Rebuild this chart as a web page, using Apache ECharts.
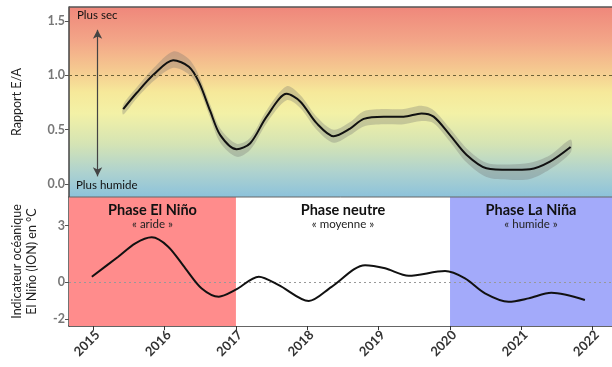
<!DOCTYPE html>
<html><head><meta charset="utf-8">
<script src="https://cdn.jsdelivr.net/npm/echarts@6/dist/echarts.min.js"></script>
<style>html,body{margin:0;padding:0;background:#fff}#c{width:612px;height:367px}</style>
</head><body><div id="c"></div>
<script>
// ---- data ----
const xTickYears = [2015, 2016, 2017, 2018, 2019, 2020, 2021, 2022];
const eaYears  = [2015.42, 2015.61, 2015.85, 2016.12, 2016.34, 2016.48, 2016.64, 2016.78, 2017.01, 2017.2, 2017.43, 2017.71, 2017.9, 2018.13, 2018.37, 2018.6, 2018.79, 2019.07, 2019.35, 2019.6, 2019.77, 2020.0, 2020.23, 2020.51, 2020.84, 2021.12, 2021.4, 2021.69];
const eaValues = [0.69, 0.84, 1.01, 1.14, 1.08, 0.94, 0.67, 0.45, 0.32, 0.375, 0.62, 0.83, 0.76, 0.56, 0.44, 0.51, 0.60, 0.62, 0.62, 0.65, 0.62, 0.45, 0.27, 0.145, 0.13, 0.135, 0.205, 0.34];
const eaBandUp   = [0.04, 0.05, 0.06, 0.08, 0.07, 0.06, 0.06, 0.06, 0.05, 0.05, 0.06, 0.07, 0.06, 0.06, 0.06, 0.06, 0.07, 0.07, 0.07, 0.07, 0.06, 0.06, 0.06, 0.05, 0.05, 0.06, 0.06, 0.07];
const eaBandDown = [0.05, 0.05, 0.06, 0.07, 0.07, 0.06, 0.06, 0.07, 0.07, 0.06, 0.06, 0.06, 0.06, 0.06, 0.06, 0.06, 0.07, 0.07, 0.07, 0.07, 0.06, 0.06, 0.07, 0.08, 0.09, 0.09, 0.07, 0.05];
const eaTicks = [0, 0.5, 1.0, 1.5];
const oniYears  = [2014.98, 2015.35, 2015.59, 2015.82, 2016.05, 2016.29, 2016.52, 2016.76, 2016.99, 2017.32, 2017.6, 2018.02, 2018.34, 2018.81, 2019.09, 2019.42, 2019.93, 2020.21, 2020.49, 2020.82, 2021.1, 2021.42, 2021.89];
const oniValues = [0.27, 1.34, 2.06, 2.38, 1.88, 0.72, -0.36, -0.80, -0.44, 0.27, -0.18, -1.03, -0.27, 0.89, 0.72, 0.32, 0.57, 0.18, -0.62, -1.07, -0.89, -0.59, -0.98];
const oniTicks = [-2, 0, 3];
const phases = [
  {name: 'Phase El Niño', sub: '« aride »', from: 2014.66, to: 2017.0, color: '#ff8c8c'},
  {name: 'Phase neutre', sub: '« moyenne »', from: 2017.0, to: 2020.0, color: '#ffffff'},
  {name: 'Phase La Niña', sub: '« humide »', from: 2020.0, to: 2022.3, color: '#a3aafa'}
];
const arrowYear = 2015.06, arrowTop = 1.42, arrowBottom = 0.07;

// ---- build ----
const X_MIN = 2014.66, X_MAX = 2022.27;
const FONT = 'Lato';
const eaLine = eaYears.map((x, i) => [x, eaValues[i]]);
const oniLine = oniYears.map((x, i) => [x, oniValues[i]]);

const chart = echarts.init(document.getElementById('c'), null, {renderer: 'canvas'});
chart.setOption({
  animation: false,
  textStyle: {fontFamily: FONT},
  grid: [
    {left: 69, right: 0, top: 7, height: 190, show: true, borderWidth: 0,
     backgroundColor: {type: 'linear', x: 0, y: 0, x2: 0, y2: 1, colorStops: [
       {offset: 0, color: '#ef877b'},
       {offset: 0.18, color: '#f3a688'},
       {offset: 0.33, color: '#f5c990'},
       {offset: 0.45, color: '#f6e99a'},
       {offset: 0.56, color: '#f3f1a6'},
       {offset: 0.72, color: '#d5e4b4'},
       {offset: 0.87, color: '#aed2cf'},
       {offset: 1, color: '#8cc2db'}]}},
    {left: 69, right: 0, top: 197, bottom: 41}
  ],
  xAxis: [
    {type: 'value', gridIndex: 0, min: X_MIN, max: X_MAX, axisLabel: {show: false}, axisTick: {show: false},
     splitLine: {show: false}, axisLine: {show: false}},
    {type: 'value', gridIndex: 1, min: X_MIN, max: X_MAX, splitLine: {show: false},
     axisLine: {show: true, onZero: false, lineStyle: {color: '#333', width: 1.5}},
     axisTick: {show: true, customValues: xTickYears, length: 4, lineStyle: {color: '#333'}},
     axisLabel: {customValues: xTickYears, formatter: v => String(Math.round(v)), rotate: 45, margin: 11,
       padding: [0, -6, 0, 0],
       fontSize: 13, fontWeight: 'bold', color: '#333', fontFamily: FONT}}
  ],
  yAxis: [
    {type: 'value', gridIndex: 0, min: -0.12, max: 1.63, splitLine: {show: false},
     name: 'Rapport E/A', nameLocation: 'middle', nameGap: 46, nameTextStyle: {fontSize: 12.5, color: '#222', fontFamily: FONT},
     axisLine: {show: true, lineStyle: {color: '#444', width: 1.5}},
     axisTick: {show: true, customValues: eaTicks, length: 4, lineStyle: {color: '#555'}},
     axisLabel: {customValues: eaTicks, formatter: v => v.toFixed(1), fontSize: 12.5, fontWeight: 'bold', color: '#777', margin: 4}},
    {type: 'value', gridIndex: 1, min: -2.37, max: 4.54, splitLine: {show: false},
     name: 'Indicateur océanique\nEl Niño (ION) en °C', nameLocation: 'middle', nameGap: 30,
     nameTextStyle: {fontSize: 12.5, color: '#222', lineHeight: 15, fontFamily: FONT},
     axisLine: {show: true, lineStyle: {color: '#444', width: 1.5}},
     axisTick: {show: true, customValues: oniTicks, length: 4, lineStyle: {color: '#555'}},
     axisLabel: {customValues: oniTicks, fontSize: 12.5, fontWeight: 'bold', color: '#777', margin: 4}}
  ],
  series: [
    {type: 'custom', xAxisIndex: 0, yAxisIndex: 0, silent: true, z: 1,
     data: [[eaYears[0], eaValues[0]]],
     renderItem: function (params, api) {
       const up = eaYears.map((x, i) => api.coord([x, eaValues[i] + eaBandUp[i]]));
       const dn = eaYears.map((x, i) => api.coord([x, eaValues[i] - eaBandDown[i]])).reverse();
       return {type: 'polygon', shape: {points: up.concat(dn), smooth: 0.3},
         style: {fill: 'rgba(110,110,110,0.3)', stroke: 'none'}};
     },
     markLine: {silent: true, symbol: ['none', 'none'], label: {show: false},
       lineStyle: {color: '#6e6238', type: [3, 3], width: 1.2}, data: [{yAxis: 1.0}]}},
    {type: 'line', xAxisIndex: 0, yAxisIndex: 0, data: eaLine, smooth: 0.3, symbol: 'none',
     lineStyle: {color: '#111', width: 2}, z: 3,
     markLine: {silent: true, symbol: ['arrow', 'arrow'], symbolSize: [7, 9], label: {show: false},
       lineStyle: {color: '#444', type: 'solid', width: 1.2},
       data: [[{coord: [arrowYear, arrowTop]}, {coord: [arrowYear, arrowBottom]}]]}},
    {type: 'line', xAxisIndex: 1, yAxisIndex: 1, data: oniLine, smooth: 0.3, symbol: 'none',
     lineStyle: {color: '#111', width: 2}, z: 5,
     markArea: {silent: true,
       data: phases.map(p => [{xAxis: p.from, itemStyle: {color: p.color},
         label: {show: true, position: 'insideTop', distance: 6,
           formatter: '{a|' + p.name + '}\n{b|' + p.sub + '}',
           rich: {a: {fontSize: 14.5, fontWeight: 'bold', color: '#111', fontFamily: FONT, lineHeight: 15},
                  b: {fontSize: 11.5, color: '#222', fontFamily: FONT, lineHeight: 13}}}},
         {xAxis: p.to}])},
     markLine: {silent: true, symbol: ['none', 'none'], label: {show: false},
       lineStyle: {color: '#999', type: [2, 3], width: 1}, data: [{yAxis: 0}]}}
  ],
  graphic: [
    {type: 'line', shape: {x1: 69, y1: 7, x2: 612, y2: 7}, style: {stroke: '#555', lineWidth: 1.5}, z: 100},
    {type: 'line', shape: {x1: 69, y1: 197, x2: 612, y2: 197}, style: {stroke: '#666', lineWidth: 1}, z: 100},
    {type: 'text', left: 77, top: 9, style: {text: 'Plus sec', fontSize: 11.5, fill: '#111', fontFamily: FONT}, z: 100},
    {type: 'text', left: 76, top: 179, style: {text: 'Plus humide', fontSize: 11.5, fill: '#111', fontFamily: FONT}, z: 100}
  ]
});
</script></body></html>
